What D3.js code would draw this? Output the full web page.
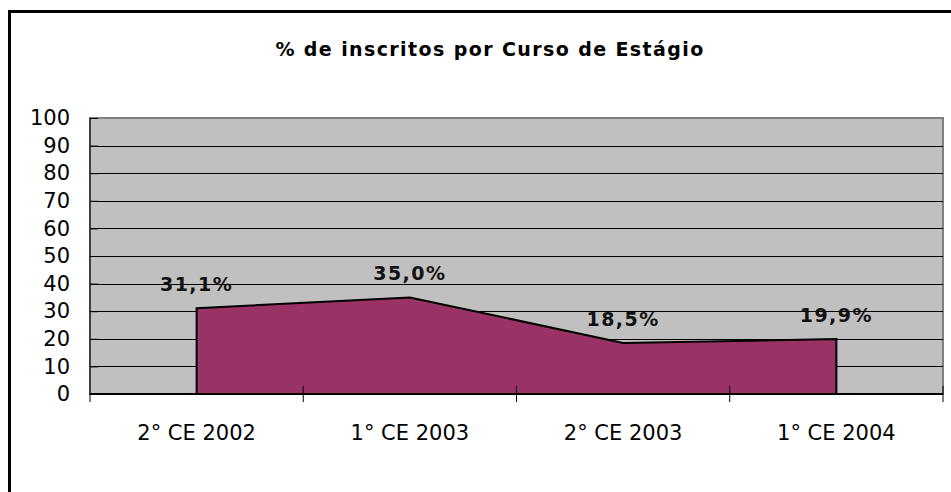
<!DOCTYPE html>
<html>
<head>
<meta charset="utf-8">
<script src="https://cdn.jsdelivr.net/npm/d3@7"></script>
<style>
  body { margin: 0; background: #fff; }
  text { font-family: "DejaVu Sans", Verdana, sans-serif; }
</style>
</head>
<body>
<svg id="chart"></svg>
<script>
// data
var courses = ["2° CE 2002", "1° CE 2003", "2° CE 2003", "1° CE 2004"];
var percents = [31.1, 35.0, 18.5, 19.9];
var yTicks = [0, 10, 20, 30, 40, 50, 60, 70, 80, 90, 100];

var width = 951, height = 492;
var margin = { top: 118, right: 8, bottom: 98, left: 90 };

var svg = d3.select("#chart")
  .attr("width", width)
  .attr("height", height);

// outer frame (runs off the right and bottom edges)
svg.append("rect")
  .attr("x", 9.5).attr("y", 11.5)
  .attr("width", 960).attr("height", 500)
  .style("fill", "#fff")
  .style("stroke", "#000")
  .style("stroke-width", 3);

svg.append("text")
  .attr("x", 490).attr("y", 56)
  .attr("text-anchor", "middle")
  .style("font-size", "19px")
  .style("font-weight", "bold")
  .style("letter-spacing", "1.4px")
  .text("% de inscritos por Curso de Estágio");

var x = d3.scaleBand()
  .domain(courses)
  .range([margin.left, width - margin.right]);

var y = d3.scaleLinear()
  .domain([0, 100])
  .range([height - margin.bottom, margin.top]);

// plot area
svg.append("rect")
  .attr("x", margin.left).attr("y", margin.top)
  .attr("width", width - margin.right - margin.left)
  .attr("height", height - margin.bottom - margin.top)
  .style("fill", "#c0c0c0")
  .style("stroke", "#808080")
  .style("stroke-width", 2);

// gridlines
svg.append("g")
  .selectAll("line")
  .data(yTicks.filter(d => d > 0 && d < 100))
  .enter().append("line")
  .attr("x1", margin.left).attr("x2", width - margin.right)
  .attr("y1", d => Math.round(y(d)) + 0.5).attr("y2", d => Math.round(y(d)) + 0.5)
  .style("stroke", "#000")
  .style("stroke-width", 1);

// area
var cx = d => x(d) + x.bandwidth() / 2;
var area = d3.area()
  .x((d, i) => cx(courses[i]))
  .y0(y(0))
  .y1(d => y(d));

svg.append("path")
  .datum(percents)
  .attr("d", area)
  .style("fill", "#993366")
  .style("stroke", "#000")
  .style("stroke-width", 2);

// value labels
svg.append("g")
  .selectAll("text")
  .data(percents)
  .enter().append("text")
  .attr("x", (d, i) => cx(courses[i]))
  .attr("y", d => y(d) - 17)
  .attr("text-anchor", "middle")
  .style("font-size", "19px")
  .style("font-weight", "bold")
  .style("letter-spacing", "1.5px")
  .style("fill", "#111")
  .text(d => d3.format(".1f")(d).replace(".", ",") + "%");

// y axis
var yAxis = svg.append("g")
  .attr("transform", "translate(" + margin.left + ",0)")
  .call(d3.axisLeft(y).tickValues(yTicks).tickSize(8).tickPadding(12));
yAxis.select(".domain").remove();
yAxis.append("line")
  .attr("y1", y(0)).attr("y2", y(100))
  .style("stroke", "#000");
yAxis.selectAll(".tick line").attr("x2", 8).style("stroke", "#000");
yAxis.selectAll(".tick text")
  .style("font-size", "21px")
  .style("fill", "#000")
  .attr("font-family", null);

// x axis
var xAxis = svg.append("g")
  .attr("transform", "translate(0," + y(0) + ")")
  .call(d3.axisBottom(x).tickSize(0).tickPadding(31));
xAxis.select(".domain").remove();
xAxis.append("line")
  .attr("x1", margin.left).attr("x2", width - margin.right)
  .style("stroke", "#000").style("stroke-width", 2);
xAxis.selectAll(".tick text")
  .style("font-size", "21px")
  .style("fill", "#000")
  .attr("font-family", null);
// category separators
xAxis.append("g")
  .selectAll("line")
  .data(courses)
  .enter().append("line")
  .attr("x1", d => x(d) + x.bandwidth()).attr("x2", d => x(d) + x.bandwidth())
  .attr("y1", -8).attr("y2", 8)
  .style("stroke", "#000");
xAxis.append("line")
  .attr("x1", margin.left).attr("x2", margin.left)
  .attr("y1", 0).attr("y2", 8)
  .style("stroke", "#000");
</script>
</body>
</html>
